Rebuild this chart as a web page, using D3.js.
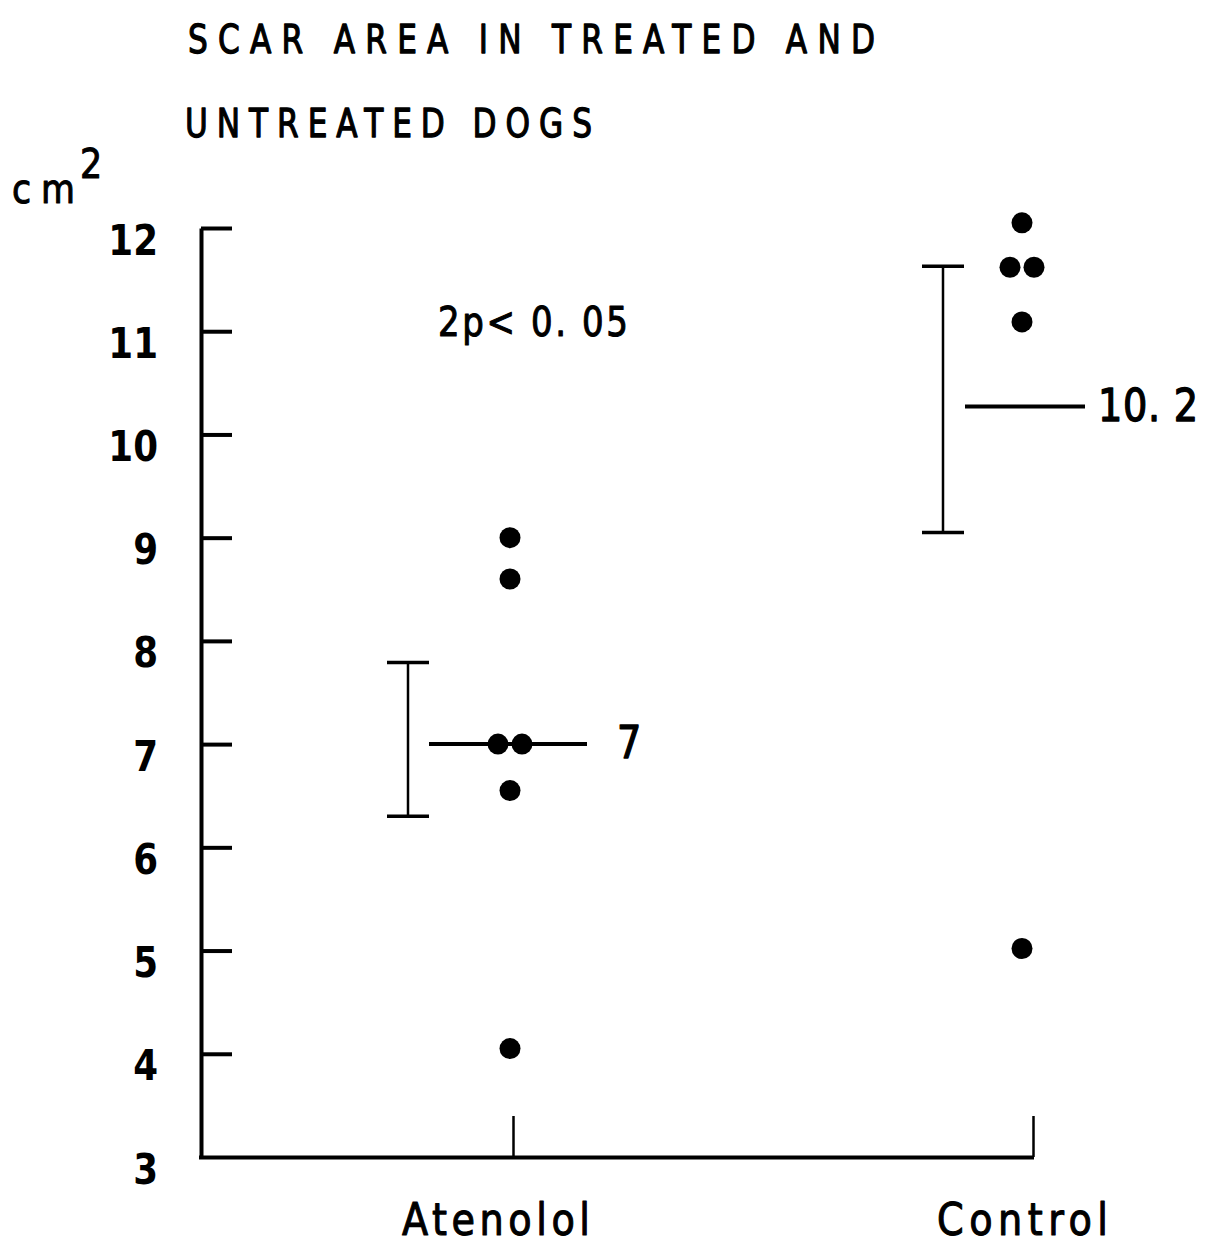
<!DOCTYPE html>
<html>
<head>
<meta charset="utf-8">
<script src="https://cdn.jsdelivr.net/npm/d3@7"></script>
<style>
  html, body { margin: 0; padding: 0; background: #fff; }
  svg text { font-family: "DejaVu Sans", sans-serif; fill: #000; }
</style>
</head>
<body>
<svg id="chart" width="1211" height="1247"></svg>
<script>
// ---- data ----
const titleLines = ["SCAR AREA IN TREATED AND", "UNTREATED DOGS"];
const unitLabel = "cm";
const unitPower = "2";
const categories = ["Atenolol", "Control"];
const yTicks = [3, 4, 5, 6, 7, 8, 9, 10, 11, 12];
const atenololValues = [9.0, 8.6, 7.0, 7.0, 6.55, 4.05];
const controlValues = [12.05, 11.62, 11.62, 11.09, 5.02];
const meanValues = [7.0, 10.27];
const meanLabels = ["7", "10. 2"];
const errLow = [6.3, 9.05];
const errHigh = [7.79, 11.63];
const pLabel = "2p< 0. 05";

// ---- layout (not data) ----
const svg = d3.select("#chart");
const y = d3.scaleLinear().domain([3, 12]).range([1157, 228]);
const x = d3.scaleLinear().domain([-0.6, 1]).range([201, 1033]);
const layout = [
  { dot: -3, bar: -105, cap: 21, mean: [-84, 74], labelX: 617, labelW: 18 },
  { dot: -11, bar: -90, cap: 21, mean: [-68, 52], labelX: 1098, labelW: 100 }
];
const R = 10.5;

// condensed text helper: horizontal squeeze + fixed overall width
function ctext(px, py, str, size, width, sx, extra) {
  const t = svg.append("text")
    .attr("transform", `translate(${px},${py}) scale(${sx},1)`)
    .attr("x", 0).attr("y", 0).attr("font-size", size).text(str);
  if (width) t.attr("textLength", width / sx).attr("lengthAdjust", "spacing");
  if (extra) t.attr("stroke", "#000").attr("stroke-width", extra).attr("stroke-linejoin", "round");
  return t;
}

// title
ctext(188, 53, titleLines[0], 39, 687, 0.8, 1.3);
ctext(185, 137, titleLines[1], 39, 407, 0.8, 1.3);

// unit
ctext(12, 203, unitLabel, 41, 63, 0.85, 1.1);
ctext(80, 178, unitPower, 41, null, 0.85, 1.1);

// y axis
const ySx = 0.85;
const yAxis = d3.axisLeft(y).tickValues(yTicks).tickFormat(d3.format("d"))
  .tickSizeInner(-31).tickSizeOuter(0).tickPadding(43);
const gy = svg.append("g").attr("transform", "translate(201,0)").call(yAxis);
gy.attr("font-family", null).attr("font-size", null);
gy.select(".domain").attr("stroke", "#000").attr("stroke-width", 4);
gy.selectAll(".tick line").attr("stroke", "#000").attr("stroke-width", 4);
gy.selectAll(".tick text")
  .attr("font-size", 42).attr("font-weight", "bold").attr("fill", "#000")
  .attr("x", -43 / ySx).attr("dy", 26)
  .attr("transform", `scale(${ySx},1)`);
gy.selectAll(".tick").filter(d => d === 3).select("line").remove();

// x axis
const xAxis = d3.axisBottom(x).tickValues([0, 1]).tickFormat("")
  .tickSizeInner(-41).tickSizeOuter(0);
const gx = svg.append("g").attr("transform", "translate(0,1157)").call(xAxis);
gx.select(".domain").attr("stroke", "#000").attr("stroke-width", 4)
  .attr("d", `M${x.range()[0] - 2},0.5H${x.range()[1] + 1}`);
gx.selectAll(".tick line").attr("stroke", "#000").attr("stroke-width", 2.5);

// category labels
const catExt = [[402, 188], [937, 171]];
categories.forEach((c, i) => {
  ctext(catExt[i][0], 1235, c, 45, catExt[i][1], 0.85, 1.1);
});

// error bars + means
categories.forEach((c, i) => {
  const L = layout[i];
  const bx = x(i) + L.bar;
  const g = svg.append("g").attr("stroke", "#000");
  g.append("line").attr("x1", bx).attr("x2", bx).attr("y1", y(errHigh[i])).attr("y2", y(errLow[i])).attr("stroke-width", 2.5);
  [errHigh[i], errLow[i]].forEach(v => {
    g.append("line").attr("x1", bx - L.cap).attr("x2", bx + L.cap).attr("y1", y(v)).attr("y2", y(v)).attr("stroke-width", 3.5);
  });
  g.append("line").attr("x1", x(i) + L.mean[0]).attr("x2", x(i) + L.mean[1])
    .attr("y1", y(meanValues[i])).attr("y2", y(meanValues[i])).attr("stroke-width", 4);
  ctext(L.labelX, y(meanValues[i]) + 14, meanLabels[i], 45, L.labelW, 0.85, 1.4);
});

// dots
const groups = [atenololValues, controlValues];
groups.forEach((vals, i) => {
  const counts = d3.rollup(vals, v => v.length, d => d);
  const seen = new Map();
  const pts = vals.map(v => {
    const n = counts.get(v);
    const k = seen.get(v) || 0;
    seen.set(v, k + 1);
    const off = n > 1 ? (k - (n - 1) / 2) * 24 : 0;
    return { v, cx: x(i) + layout[i].dot + off };
  });
  svg.append("g").selectAll("circle").data(pts).join("circle")
    .attr("cx", d => d.cx).attr("cy", d => y(d.v)).attr("r", R).attr("fill", "#000");
});

// significance label
ctext(438, 336, pLabel, 40, 190, 0.85, 1.1);
</script>
</body>
</html>
